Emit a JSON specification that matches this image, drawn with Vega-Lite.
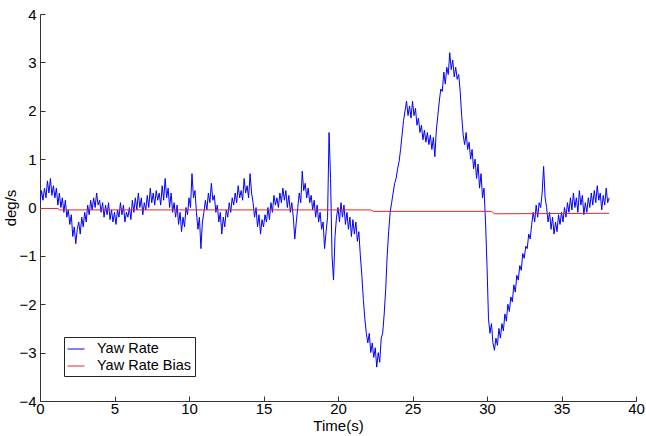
{
"$schema": "https://vega.github.io/schema/vega-lite/v6.json",
"width": 596, "height": 387,
"autosize": {"type": "none"},
"padding": {"left": 40, "top": 14, "right": 10, "bottom": 35},
"background": "white",
"config": {"view": {"stroke": null}, "font": "Liberation Sans",
 "axis": {"grid": false, "domainColor": "#333333", "tickColor": "#333333", "labelColor": "#000000", "titleColor": "#000000", "labelFontSize": 15, "titleFontSize": 15, "titleFontWeight": "normal", "tickSize": -5, "labelFont": "Liberation Sans", "titleFont": "Liberation Sans"}},
"data": {"values": [
{"t":0,"v":0.1,"s":"Yaw Rate"},{"t":0.1,"v":0.35,"s":"Yaw Rate"},{"t":0.2,"v":0.15,"s":"Yaw Rate"},{"t":0.3,"v":0.4,"s":"Yaw Rate"},{"t":0.4,"v":0.2,"s":"Yaw Rate"},{"t":0.5,"v":0.55,"s":"Yaw Rate"},{"t":0.6,"v":0.3,"s":"Yaw Rate"},{"t":0.7,"v":0.6,"s":"Yaw Rate"},{"t":0.8,"v":0.25,"s":"Yaw Rate"},{"t":0.9,"v":0.45,"s":"Yaw Rate"},
{"t":1,"v":0.2,"s":"Yaw Rate"},{"t":1.1,"v":0.4,"s":"Yaw Rate"},{"t":1.2,"v":0.05,"s":"Yaw Rate"},{"t":1.3,"v":0.3,"s":"Yaw Rate"},{"t":1.4,"v":0.0,"s":"Yaw Rate"},{"t":1.5,"v":0.2,"s":"Yaw Rate"},{"t":1.6,"v":-0.1,"s":"Yaw Rate"},{"t":1.7,"v":0.15,"s":"Yaw Rate"},{"t":1.8,"v":-0.2,"s":"Yaw Rate"},{"t":1.9,"v":-0.05,"s":"Yaw Rate"},
{"t":2,"v":-0.35,"s":"Yaw Rate"},{"t":2.1,"v":-0.15,"s":"Yaw Rate"},{"t":2.2,"v":-0.6,"s":"Yaw Rate"},{"t":2.3,"v":-0.4,"s":"Yaw Rate"},{"t":2.4,"v":-0.75,"s":"Yaw Rate"},{"t":2.5,"v":-0.45,"s":"Yaw Rate"},{"t":2.6,"v":-0.3,"s":"Yaw Rate"},{"t":2.7,"v":-0.55,"s":"Yaw Rate"},{"t":2.8,"v":-0.2,"s":"Yaw Rate"},{"t":2.9,"v":-0.4,"s":"Yaw Rate"},
{"t":3,"v":-0.1,"s":"Yaw Rate"},{"t":3.1,"v":-0.3,"s":"Yaw Rate"},{"t":3.2,"v":0.05,"s":"Yaw Rate"},{"t":3.3,"v":-0.15,"s":"Yaw Rate"},{"t":3.4,"v":0.15,"s":"Yaw Rate"},{"t":3.5,"v":-0.05,"s":"Yaw Rate"},{"t":3.6,"v":0.2,"s":"Yaw Rate"},{"t":3.7,"v":0.0,"s":"Yaw Rate"},{"t":3.8,"v":0.3,"s":"Yaw Rate"},{"t":3.9,"v":0.05,"s":"Yaw Rate"},
{"t":4,"v":0.15,"s":"Yaw Rate"},{"t":4.1,"v":-0.1,"s":"Yaw Rate"},{"t":4.2,"v":0.1,"s":"Yaw Rate"},{"t":4.3,"v":-0.2,"s":"Yaw Rate"},{"t":4.4,"v":0.05,"s":"Yaw Rate"},{"t":4.5,"v":-0.15,"s":"Yaw Rate"},{"t":4.6,"v":0.1,"s":"Yaw Rate"},{"t":4.7,"v":-0.25,"s":"Yaw Rate"},{"t":4.8,"v":-0.05,"s":"Yaw Rate"},{"t":4.9,"v":-0.3,"s":"Yaw Rate"},
{"t":5,"v":-0.1,"s":"Yaw Rate"},{"t":5.1,"v":-0.35,"s":"Yaw Rate"},{"t":5.2,"v":-0.05,"s":"Yaw Rate"},{"t":5.3,"v":-0.2,"s":"Yaw Rate"},{"t":5.4,"v":0.1,"s":"Yaw Rate"},{"t":5.5,"v":-0.15,"s":"Yaw Rate"},{"t":5.6,"v":0.05,"s":"Yaw Rate"},{"t":5.7,"v":-0.3,"s":"Yaw Rate"},{"t":5.8,"v":-0.1,"s":"Yaw Rate"},{"t":5.9,"v":-0.2,"s":"Yaw Rate"},
{"t":6,"v":0.0,"s":"Yaw Rate"},{"t":6.1,"v":-0.25,"s":"Yaw Rate"},{"t":6.2,"v":0.15,"s":"Yaw Rate"},{"t":6.3,"v":-0.1,"s":"Yaw Rate"},{"t":6.4,"v":0.2,"s":"Yaw Rate"},{"t":6.5,"v":-0.05,"s":"Yaw Rate"},{"t":6.6,"v":0.3,"s":"Yaw Rate"},{"t":6.7,"v":0.0,"s":"Yaw Rate"},{"t":6.8,"v":0.2,"s":"Yaw Rate"},{"t":6.9,"v":-0.15,"s":"Yaw Rate"},
{"t":7,"v":0.1,"s":"Yaw Rate"},{"t":7.1,"v":-0.05,"s":"Yaw Rate"},{"t":7.2,"v":0.25,"s":"Yaw Rate"},{"t":7.3,"v":0.0,"s":"Yaw Rate"},{"t":7.4,"v":0.4,"s":"Yaw Rate"},{"t":7.5,"v":0.1,"s":"Yaw Rate"},{"t":7.6,"v":0.3,"s":"Yaw Rate"},{"t":7.7,"v":0.05,"s":"Yaw Rate"},{"t":7.8,"v":0.35,"s":"Yaw Rate"},{"t":7.9,"v":0.15,"s":"Yaw Rate"},
{"t":8,"v":0.3,"s":"Yaw Rate"},{"t":8.1,"v":0.05,"s":"Yaw Rate"},{"t":8.2,"v":0.45,"s":"Yaw Rate"},{"t":8.3,"v":0.15,"s":"Yaw Rate"},{"t":8.4,"v":0.6,"s":"Yaw Rate"},{"t":8.5,"v":0.2,"s":"Yaw Rate"},{"t":8.6,"v":0.4,"s":"Yaw Rate"},{"t":8.7,"v":0.0,"s":"Yaw Rate"},{"t":8.8,"v":0.3,"s":"Yaw Rate"},{"t":8.9,"v":-0.1,"s":"Yaw Rate"},
{"t":9,"v":0.1,"s":"Yaw Rate"},{"t":9.1,"v":-0.2,"s":"Yaw Rate"},{"t":9.2,"v":0.05,"s":"Yaw Rate"},{"t":9.3,"v":-0.35,"s":"Yaw Rate"},{"t":9.4,"v":-0.1,"s":"Yaw Rate"},{"t":9.5,"v":-0.5,"s":"Yaw Rate"},{"t":9.6,"v":-0.2,"s":"Yaw Rate"},{"t":9.7,"v":-0.4,"s":"Yaw Rate"},{"t":9.8,"v":0.0,"s":"Yaw Rate"},{"t":9.9,"v":-0.15,"s":"Yaw Rate"},
{"t":10,"v":0.2,"s":"Yaw Rate"},{"t":10.1,"v":0.0,"s":"Yaw Rate"},{"t":10.2,"v":0.7,"s":"Yaw Rate"},{"t":10.3,"v":0.2,"s":"Yaw Rate"},{"t":10.4,"v":0.35,"s":"Yaw Rate"},{"t":10.5,"v":-0.1,"s":"Yaw Rate"},{"t":10.6,"v":-0.45,"s":"Yaw Rate"},{"t":10.7,"v":-0.2,"s":"Yaw Rate"},{"t":10.8,"v":-0.85,"s":"Yaw Rate"},{"t":10.9,"v":-0.3,"s":"Yaw Rate"},
{"t":11,"v":-0.1,"s":"Yaw Rate"},{"t":11.1,"v":0.15,"s":"Yaw Rate"},{"t":11.2,"v":-0.05,"s":"Yaw Rate"},{"t":11.3,"v":0.3,"s":"Yaw Rate"},{"t":11.4,"v":0.1,"s":"Yaw Rate"},{"t":11.5,"v":0.5,"s":"Yaw Rate"},{"t":11.6,"v":0.15,"s":"Yaw Rate"},{"t":11.7,"v":0.25,"s":"Yaw Rate"},{"t":11.8,"v":-0.1,"s":"Yaw Rate"},{"t":11.9,"v":0.05,"s":"Yaw Rate"},
{"t":12,"v":-0.3,"s":"Yaw Rate"},{"t":12.1,"v":-0.1,"s":"Yaw Rate"},{"t":12.2,"v":-0.55,"s":"Yaw Rate"},{"t":12.3,"v":-0.2,"s":"Yaw Rate"},{"t":12.4,"v":-0.4,"s":"Yaw Rate"},{"t":12.5,"v":-0.05,"s":"Yaw Rate"},{"t":12.6,"v":-0.2,"s":"Yaw Rate"},{"t":12.7,"v":0.1,"s":"Yaw Rate"},{"t":12.8,"v":-0.1,"s":"Yaw Rate"},{"t":12.9,"v":0.2,"s":"Yaw Rate"},
{"t":13,"v":0.05,"s":"Yaw Rate"},{"t":13.1,"v":0.3,"s":"Yaw Rate"},{"t":13.2,"v":0.1,"s":"Yaw Rate"},{"t":13.3,"v":0.45,"s":"Yaw Rate"},{"t":13.4,"v":0.2,"s":"Yaw Rate"},{"t":13.5,"v":0.35,"s":"Yaw Rate"},{"t":13.6,"v":0.15,"s":"Yaw Rate"},{"t":13.7,"v":0.6,"s":"Yaw Rate"},{"t":13.8,"v":0.3,"s":"Yaw Rate"},{"t":13.9,"v":0.45,"s":"Yaw Rate"},
{"t":14,"v":0.2,"s":"Yaw Rate"},{"t":14.1,"v":0.7,"s":"Yaw Rate"},{"t":14.2,"v":0.3,"s":"Yaw Rate"},{"t":14.3,"v":0.1,"s":"Yaw Rate"},{"t":14.4,"v":-0.2,"s":"Yaw Rate"},{"t":14.5,"v":0.0,"s":"Yaw Rate"},{"t":14.6,"v":-0.4,"s":"Yaw Rate"},{"t":14.7,"v":-0.15,"s":"Yaw Rate"},{"t":14.8,"v":-0.55,"s":"Yaw Rate"},{"t":14.9,"v":-0.25,"s":"Yaw Rate"},
{"t":15,"v":-0.4,"s":"Yaw Rate"},{"t":15.1,"v":-0.15,"s":"Yaw Rate"},{"t":15.2,"v":-0.3,"s":"Yaw Rate"},{"t":15.3,"v":0.0,"s":"Yaw Rate"},{"t":15.4,"v":-0.25,"s":"Yaw Rate"},{"t":15.5,"v":0.1,"s":"Yaw Rate"},{"t":15.6,"v":-0.1,"s":"Yaw Rate"},{"t":15.7,"v":0.25,"s":"Yaw Rate"},{"t":15.8,"v":0.05,"s":"Yaw Rate"},{"t":15.9,"v":0.2,"s":"Yaw Rate"},
{"t":16,"v":0.0,"s":"Yaw Rate"},{"t":16.1,"v":0.3,"s":"Yaw Rate"},{"t":16.2,"v":0.1,"s":"Yaw Rate"},{"t":16.3,"v":0.4,"s":"Yaw Rate"},{"t":16.4,"v":0.15,"s":"Yaw Rate"},{"t":16.5,"v":0.35,"s":"Yaw Rate"},{"t":16.6,"v":0.0,"s":"Yaw Rate"},{"t":16.7,"v":0.25,"s":"Yaw Rate"},{"t":16.8,"v":-0.1,"s":"Yaw Rate"},{"t":16.9,"v":0.1,"s":"Yaw Rate"},
{"t":17,"v":-0.2,"s":"Yaw Rate"},{"t":17.1,"v":-0.65,"s":"Yaw Rate"},{"t":17.2,"v":-0.3,"s":"Yaw Rate"},{"t":17.3,"v":0.0,"s":"Yaw Rate"},{"t":17.4,"v":0.3,"s":"Yaw Rate"},{"t":17.5,"v":0.1,"s":"Yaw Rate"},{"t":17.6,"v":0.75,"s":"Yaw Rate"},{"t":17.7,"v":0.35,"s":"Yaw Rate"},{"t":17.8,"v":0.5,"s":"Yaw Rate"},{"t":17.9,"v":0.2,"s":"Yaw Rate"},
{"t":18,"v":0.4,"s":"Yaw Rate"},{"t":18.1,"v":0.1,"s":"Yaw Rate"},{"t":18.2,"v":0.25,"s":"Yaw Rate"},{"t":18.3,"v":-0.05,"s":"Yaw Rate"},{"t":18.4,"v":0.15,"s":"Yaw Rate"},{"t":18.5,"v":-0.2,"s":"Yaw Rate"},{"t":18.6,"v":0.05,"s":"Yaw Rate"},{"t":18.7,"v":-0.3,"s":"Yaw Rate"},{"t":18.8,"v":-0.1,"s":"Yaw Rate"},{"t":18.9,"v":-0.45,"s":"Yaw Rate"},
{"t":19,"v":-0.3,"s":"Yaw Rate"},{"t":19.1,"v":-0.85,"s":"Yaw Rate"},{"t":19.2,"v":-0.5,"s":"Yaw Rate"},{"t":19.3,"v":-0.2,"s":"Yaw Rate"},{"t":19.4,"v":1.55,"s":"Yaw Rate"},{"t":19.5,"v":0.6,"s":"Yaw Rate"},{"t":19.6,"v":-1.0,"s":"Yaw Rate"},{"t":19.7,"v":-1.5,"s":"Yaw Rate"},{"t":19.8,"v":-0.6,"s":"Yaw Rate"},{"t":19.9,"v":-0.2,"s":"Yaw Rate"},
{"t":20,"v":0.0,"s":"Yaw Rate"},{"t":20.1,"v":-0.3,"s":"Yaw Rate"},{"t":20.2,"v":0.1,"s":"Yaw Rate"},{"t":20.3,"v":-0.2,"s":"Yaw Rate"},{"t":20.4,"v":0.05,"s":"Yaw Rate"},{"t":20.5,"v":-0.35,"s":"Yaw Rate"},{"t":20.6,"v":-0.1,"s":"Yaw Rate"},{"t":20.7,"v":-0.45,"s":"Yaw Rate"},{"t":20.8,"v":-0.2,"s":"Yaw Rate"},{"t":20.9,"v":-0.6,"s":"Yaw Rate"},
{"t":21,"v":-0.25,"s":"Yaw Rate"},{"t":21.1,"v":-0.55,"s":"Yaw Rate"},{"t":21.2,"v":-0.3,"s":"Yaw Rate"},{"t":21.3,"v":-0.7,"s":"Yaw Rate"},{"t":21.4,"v":-0.5,"s":"Yaw Rate"},{"t":21.5,"v":-1.0,"s":"Yaw Rate"},{"t":21.6,"v":-1.4,"s":"Yaw Rate"},{"t":21.7,"v":-1.9,"s":"Yaw Rate"},{"t":21.8,"v":-2.3,"s":"Yaw Rate"},{"t":21.9,"v":-2.6,"s":"Yaw Rate"},
{"t":22,"v":-2.8,"s":"Yaw Rate"},{"t":22.1,"v":-2.6,"s":"Yaw Rate"},{"t":22.2,"v":-3.0,"s":"Yaw Rate"},{"t":22.3,"v":-2.8,"s":"Yaw Rate"},{"t":22.4,"v":-3.1,"s":"Yaw Rate"},{"t":22.5,"v":-2.9,"s":"Yaw Rate"},{"t":22.6,"v":-3.3,"s":"Yaw Rate"},{"t":22.7,"v":-3.0,"s":"Yaw Rate"},{"t":22.8,"v":-3.2,"s":"Yaw Rate"},{"t":22.9,"v":-2.7,"s":"Yaw Rate"},
{"t":23,"v":-2.6,"s":"Yaw Rate"},{"t":23.1,"v":-2.2,"s":"Yaw Rate"},{"t":23.2,"v":-1.7,"s":"Yaw Rate"},{"t":23.3,"v":-1.0,"s":"Yaw Rate"},{"t":23.4,"v":-0.5,"s":"Yaw Rate"},{"t":23.5,"v":-0.1,"s":"Yaw Rate"},{"t":23.6,"v":0.1,"s":"Yaw Rate"},{"t":23.7,"v":0.3,"s":"Yaw Rate"},{"t":23.8,"v":0.5,"s":"Yaw Rate"},{"t":23.9,"v":0.6,"s":"Yaw Rate"},
{"t":24,"v":0.8,"s":"Yaw Rate"},{"t":24.1,"v":0.95,"s":"Yaw Rate"},{"t":24.2,"v":1.2,"s":"Yaw Rate"},{"t":24.3,"v":1.5,"s":"Yaw Rate"},{"t":24.4,"v":1.8,"s":"Yaw Rate"},{"t":24.5,"v":2.0,"s":"Yaw Rate"},{"t":24.6,"v":2.2,"s":"Yaw Rate"},{"t":24.7,"v":1.9,"s":"Yaw Rate"},{"t":24.8,"v":2.1,"s":"Yaw Rate"},{"t":24.9,"v":1.85,"s":"Yaw Rate"},
{"t":25,"v":2.2,"s":"Yaw Rate"},{"t":25.1,"v":1.9,"s":"Yaw Rate"},{"t":25.2,"v":2.05,"s":"Yaw Rate"},{"t":25.3,"v":1.7,"s":"Yaw Rate"},{"t":25.4,"v":1.85,"s":"Yaw Rate"},{"t":25.5,"v":1.55,"s":"Yaw Rate"},{"t":25.6,"v":1.7,"s":"Yaw Rate"},{"t":25.7,"v":1.4,"s":"Yaw Rate"},{"t":25.8,"v":1.6,"s":"Yaw Rate"},{"t":25.9,"v":1.35,"s":"Yaw Rate"},
{"t":26,"v":1.55,"s":"Yaw Rate"},{"t":26.1,"v":1.3,"s":"Yaw Rate"},{"t":26.2,"v":1.5,"s":"Yaw Rate"},{"t":26.3,"v":1.2,"s":"Yaw Rate"},{"t":26.4,"v":1.45,"s":"Yaw Rate"},{"t":26.5,"v":1.05,"s":"Yaw Rate"},{"t":26.6,"v":1.6,"s":"Yaw Rate"},{"t":26.7,"v":1.9,"s":"Yaw Rate"},{"t":26.8,"v":2.2,"s":"Yaw Rate"},{"t":26.9,"v":2.45,"s":"Yaw Rate"},
{"t":27,"v":2.4,"s":"Yaw Rate"},{"t":27.1,"v":2.8,"s":"Yaw Rate"},{"t":27.2,"v":2.55,"s":"Yaw Rate"},{"t":27.3,"v":2.9,"s":"Yaw Rate"},{"t":27.4,"v":2.75,"s":"Yaw Rate"},{"t":27.5,"v":3.2,"s":"Yaw Rate"},{"t":27.6,"v":2.85,"s":"Yaw Rate"},{"t":27.7,"v":3.05,"s":"Yaw Rate"},{"t":27.8,"v":2.7,"s":"Yaw Rate"},{"t":27.9,"v":2.9,"s":"Yaw Rate"},
{"t":28,"v":2.65,"s":"Yaw Rate"},{"t":28.1,"v":2.75,"s":"Yaw Rate"},{"t":28.2,"v":2.4,"s":"Yaw Rate"},{"t":28.3,"v":1.9,"s":"Yaw Rate"},{"t":28.4,"v":1.5,"s":"Yaw Rate"},{"t":28.5,"v":1.3,"s":"Yaw Rate"},{"t":28.6,"v":1.55,"s":"Yaw Rate"},{"t":28.7,"v":1.2,"s":"Yaw Rate"},{"t":28.8,"v":1.35,"s":"Yaw Rate"},{"t":28.9,"v":1.0,"s":"Yaw Rate"},
{"t":29,"v":1.2,"s":"Yaw Rate"},{"t":29.1,"v":0.8,"s":"Yaw Rate"},{"t":29.2,"v":1.0,"s":"Yaw Rate"},{"t":29.3,"v":0.6,"s":"Yaw Rate"},{"t":29.4,"v":0.9,"s":"Yaw Rate"},{"t":29.5,"v":0.4,"s":"Yaw Rate"},{"t":29.6,"v":0.7,"s":"Yaw Rate"},{"t":29.7,"v":0.2,"s":"Yaw Rate"},{"t":29.8,"v":0.4,"s":"Yaw Rate"},{"t":29.9,"v":-0.3,"s":"Yaw Rate"},
{"t":30,"v":-1.2,"s":"Yaw Rate"},{"t":30.1,"v":-2.3,"s":"Yaw Rate"},{"t":30.2,"v":-2.6,"s":"Yaw Rate"},{"t":30.3,"v":-2.4,"s":"Yaw Rate"},{"t":30.4,"v":-2.8,"s":"Yaw Rate"},{"t":30.5,"v":-2.95,"s":"Yaw Rate"},{"t":30.6,"v":-2.7,"s":"Yaw Rate"},{"t":30.7,"v":-2.85,"s":"Yaw Rate"},{"t":30.8,"v":-2.5,"s":"Yaw Rate"},{"t":30.9,"v":-2.7,"s":"Yaw Rate"},
{"t":31,"v":-2.4,"s":"Yaw Rate"},{"t":31.1,"v":-2.55,"s":"Yaw Rate"},{"t":31.2,"v":-2.2,"s":"Yaw Rate"},{"t":31.3,"v":-2.35,"s":"Yaw Rate"},{"t":31.4,"v":-2.0,"s":"Yaw Rate"},{"t":31.5,"v":-2.15,"s":"Yaw Rate"},{"t":31.6,"v":-1.85,"s":"Yaw Rate"},{"t":31.7,"v":-1.95,"s":"Yaw Rate"},{"t":31.8,"v":-1.6,"s":"Yaw Rate"},{"t":31.9,"v":-1.75,"s":"Yaw Rate"},
{"t":32,"v":-1.4,"s":"Yaw Rate"},{"t":32.1,"v":-1.5,"s":"Yaw Rate"},{"t":32.2,"v":-1.2,"s":"Yaw Rate"},{"t":32.3,"v":-1.3,"s":"Yaw Rate"},{"t":32.4,"v":-0.95,"s":"Yaw Rate"},{"t":32.5,"v":-1.05,"s":"Yaw Rate"},{"t":32.6,"v":-0.8,"s":"Yaw Rate"},{"t":32.7,"v":-0.85,"s":"Yaw Rate"},{"t":32.8,"v":-0.55,"s":"Yaw Rate"},{"t":32.9,"v":-0.65,"s":"Yaw Rate"},
{"t":33,"v":-0.35,"s":"Yaw Rate"},{"t":33.1,"v":-0.1,"s":"Yaw Rate"},{"t":33.2,"v":-0.3,"s":"Yaw Rate"},{"t":33.3,"v":0.05,"s":"Yaw Rate"},{"t":33.4,"v":-0.2,"s":"Yaw Rate"},{"t":33.5,"v":0.1,"s":"Yaw Rate"},{"t":33.6,"v":0.0,"s":"Yaw Rate"},{"t":33.7,"v":0.3,"s":"Yaw Rate"},{"t":33.8,"v":0.85,"s":"Yaw Rate"},{"t":33.9,"v":0.2,"s":"Yaw Rate"},
{"t":34,"v":0.0,"s":"Yaw Rate"},{"t":34.1,"v":-0.3,"s":"Yaw Rate"},{"t":34.2,"v":-0.1,"s":"Yaw Rate"},{"t":34.3,"v":-0.45,"s":"Yaw Rate"},{"t":34.4,"v":-0.2,"s":"Yaw Rate"},{"t":34.5,"v":-0.55,"s":"Yaw Rate"},{"t":34.6,"v":-0.3,"s":"Yaw Rate"},{"t":34.7,"v":-0.5,"s":"Yaw Rate"},{"t":34.8,"v":-0.15,"s":"Yaw Rate"},{"t":34.9,"v":-0.35,"s":"Yaw Rate"},
{"t":35,"v":-0.1,"s":"Yaw Rate"},{"t":35.1,"v":-0.3,"s":"Yaw Rate"},{"t":35.2,"v":0.0,"s":"Yaw Rate"},{"t":35.3,"v":-0.2,"s":"Yaw Rate"},{"t":35.4,"v":0.1,"s":"Yaw Rate"},{"t":35.5,"v":-0.1,"s":"Yaw Rate"},{"t":35.6,"v":0.2,"s":"Yaw Rate"},{"t":35.7,"v":-0.05,"s":"Yaw Rate"},{"t":35.8,"v":0.3,"s":"Yaw Rate"},{"t":35.9,"v":0.0,"s":"Yaw Rate"},
{"t":36,"v":0.2,"s":"Yaw Rate"},{"t":36.1,"v":-0.1,"s":"Yaw Rate"},{"t":36.2,"v":0.35,"s":"Yaw Rate"},{"t":36.3,"v":0.05,"s":"Yaw Rate"},{"t":36.4,"v":0.25,"s":"Yaw Rate"},{"t":36.5,"v":-0.15,"s":"Yaw Rate"},{"t":36.6,"v":0.1,"s":"Yaw Rate"},{"t":36.7,"v":-0.1,"s":"Yaw Rate"},{"t":36.8,"v":0.2,"s":"Yaw Rate"},{"t":36.9,"v":0.0,"s":"Yaw Rate"},
{"t":37,"v":0.3,"s":"Yaw Rate"},{"t":37.1,"v":0.05,"s":"Yaw Rate"},{"t":37.2,"v":0.35,"s":"Yaw Rate"},{"t":37.3,"v":0.1,"s":"Yaw Rate"},{"t":37.4,"v":0.45,"s":"Yaw Rate"},{"t":37.5,"v":0.15,"s":"Yaw Rate"},{"t":37.6,"v":0.3,"s":"Yaw Rate"},{"t":37.7,"v":-0.05,"s":"Yaw Rate"},{"t":37.8,"v":0.25,"s":"Yaw Rate"},{"t":37.9,"v":0.05,"s":"Yaw Rate"},
{"t":38,"v":0.4,"s":"Yaw Rate"},{"t":38.1,"v":0.1,"s":"Yaw Rate"},{"t":38.2,"v":0.2,"s":"Yaw Rate"},
{"t":0,"v":-0.02,"s":"Yaw Rate Bias"},{"t":1.2,"v":-0.02,"s":"Yaw Rate Bias"},{"t":1.3,"v":-0.05,"s":"Yaw Rate Bias"},{"t":22.2,"v":-0.05,"s":"Yaw Rate Bias"},{"t":22.4,"v":-0.08,"s":"Yaw Rate Bias"},{"t":30.3,"v":-0.08,"s":"Yaw Rate Bias"},{"t":30.5,"v":-0.13,"s":"Yaw Rate Bias"},{"t":38.2,"v":-0.12,"s":"Yaw Rate Bias"}
]},
"mark": {"type": "line", "strokeWidth": 1, "clip": true},
"encoding": {
 "x": {"field": "t", "type": "quantitative", "scale": {"domain": [0, 40], "nice": false, "zero": false},
   "axis": {"title": "Time(s)", "values": [0,5,10,15,20,25,30,35,40], "labelPadding": 5, "titlePadding": 2, "labelFlush": false}},
 "y": {"field": "v", "type": "quantitative", "scale": {"domain": [-4, 4], "nice": false},
   "axis": {"title": "deg/s", "values": [-4,-3,-2,-1,0,1,2,3,4], "labelPadding": 9, "titlePadding": 0, "labelFlush": false}},
 "color": {"field": "s", "type": "nominal", "scale": {"domain": ["Yaw Rate", "Yaw Rate Bias"], "range": ["#0000ff", "#e02828"]},
   "legend": {"title": null, "orient": "none", "legendX": 24, "legendY": 323, "direction": "vertical", "strokeColor": "#222222", "fillColor": "#ffffff", "padding": 3, "symbolType": "stroke", "symbolSize": 289, "symbolStrokeWidth": 1, "labelFontSize": 14.5, "labelColor": "#000000", "labelFont": "Liberation Sans", "labelOffset": 12, "rowPadding": 1, "cornerRadius": 0}},
 "order": {"field": "t", "type": "quantitative"}
}
}
